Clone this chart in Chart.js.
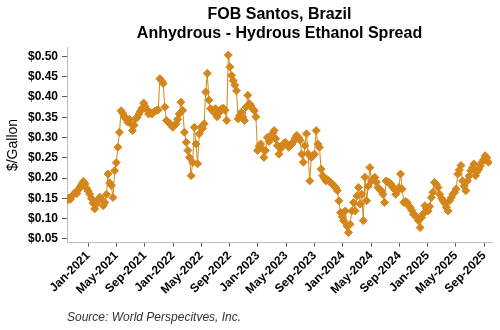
<!DOCTYPE html>
<html>
<head>
<meta charset="utf-8">
<script src="https://cdn.jsdelivr.net/npm/chart.js@4.4.1/dist/chart.umd.min.js"></script>
<style>
  body { margin: 0; background: #fff; }
  #spreadChart { display: block; }
</style>
</head>
<body>
<canvas id="spreadChart" width="500" height="330"></canvas>
<script>
// Weekly anhydrous minus hydrous spread, $/gallon (first week: 2 Oct 2020)
const spread2020 = [0.145, 0.150, 0.148, 0.156, 0.160, 0.165, 0.162, 0.172, 0.178, 0.185, 0.192, 0.186, 0.175];
const spread2021 = [0.168, 0.160, 0.150, 0.138, 0.124, 0.136, 0.146, 0.153, 0.147, 0.132, 0.140, 0.160, 0.210,
  0.188, 0.182, 0.152, 0.218, 0.238, 0.276, 0.313, 0.366, 0.360, 0.352, 0.346, 0.338, 0.345, 0.334, 0.317,
  0.330, 0.346, 0.350, 0.358, 0.365, 0.372, 0.385, 0.376, 0.368, 0.358, 0.362, 0.358, 0.362, 0.365, 0.367,
  0.368, 0.445, 0.440, 0.433, 0.375, 0.342, 0.338, 0.335, 0.330, 0.325];
const spread2022 = [0.330, 0.334, 0.345, 0.358, 0.387, 0.367, 0.313, 0.288, 0.268, 0.251, 0.206, 0.239, 0.325,
  0.284, 0.235, 0.309, 0.325, 0.322, 0.334, 0.412, 0.458, 0.392, 0.371, 0.368, 0.362, 0.371, 0.351, 0.360,
  0.368, 0.371, 0.372, 0.367, 0.342, 0.503, 0.474, 0.453, 0.440, 0.429, 0.415, 0.346, 0.355, 0.362, 0.350,
  0.342, 0.375, 0.404, 0.383, 0.378, 0.371, 0.366, 0.351, 0.268];
const spread2023 = [0.278, 0.284, 0.272, 0.251, 0.268, 0.300, 0.290, 0.297, 0.310, 0.317, 0.297, 0.280, 0.259,
  0.272, 0.280, 0.285, 0.288, 0.282, 0.276, 0.280, 0.284, 0.290, 0.298, 0.305, 0.300, 0.293, 0.259, 0.239,
  0.280, 0.309, 0.260, 0.193, 0.251, 0.255, 0.259, 0.317, 0.284, 0.276, 0.222, 0.206, 0.200, 0.193, 0.196,
  0.192, 0.189, 0.185, 0.181, 0.176, 0.169, 0.144, 0.115, 0.105];
const spread2024 = [0.095, 0.119, 0.082, 0.066, 0.086, 0.119, 0.140, 0.119, 0.156, 0.177, 0.136, 0.160, 0.095,
  0.202, 0.144, 0.180, 0.226, 0.193, 0.198, 0.202, 0.190, 0.177, 0.172, 0.169, 0.160, 0.140, 0.193, 0.190,
  0.189, 0.185, 0.178, 0.173, 0.160, 0.168, 0.177, 0.210, 0.173, 0.140, 0.142, 0.140, 0.132, 0.127, 0.120,
  0.111, 0.108, 0.103, 0.095, 0.078, 0.103, 0.112, 0.132, 0.125];
const spread2025 = [0.119, 0.130, 0.152, 0.165, 0.189, 0.185, 0.177, 0.160, 0.150, 0.144, 0.138, 0.128, 0.119,
  0.144, 0.152, 0.160, 0.165, 0.173, 0.210, 0.220, 0.231, 0.193, 0.180, 0.169, 0.193, 0.205, 0.218, 0.225,
  0.235, 0.206, 0.215, 0.222, 0.230, 0.239, 0.245, 0.255, 0.250, 0.239];

const xTickLabels = ["Jan-2021", "May-2021", "Sep-2021", "Jan-2022", "May-2022", "Sep-2022", "Jan-2023",
  "May-2023", "Sep-2023", "Jan-2024", "May-2024", "Sep-2024", "Jan-2025", "May-2025", "Sep-2025"];
const yTickValues = [0.05, 0.10, 0.15, 0.20, 0.25, 0.30, 0.35, 0.40, 0.45, 0.50];

const MONTHS = ["Jan", "Feb", "Mar", "Apr", "May", "Jun", "Jul", "Aug", "Sep", "Oct", "Nov", "Dec"];
const LINE_COLOR = "#D4861B";
const FONT = "'Liberation Sans', Arial, sans-serif";

// x axis runs in months counted from Jan 2021
function monthIndex(date) {
  const y = date.getUTCFullYear();
  const m = date.getUTCMonth();
  const days = new Date(Date.UTC(y, m + 1, 0)).getUTCDate();
  return (y - 2021) * 12 + m + (date.getUTCDate() - 1) / days;
}

function labelToMonth(label) {
  const [mon, year] = label.split("-");
  return (Number(year) - 2021) * 12 + MONTHS.indexOf(mon);
}

const weeklySpread = [].concat(spread2020, spread2021, spread2022, spread2023, spread2024, spread2025);
const points = weeklySpread.map((v, i) => ({
  x: monthIndex(new Date(Date.UTC(2020, 9, 2 + 7 * i))),
  y: v,
}));

const ctx = document.getElementById("spreadChart").getContext("2d");
new Chart(ctx, {
  type: "line",
  data: {
    datasets: [
      {
        label: "Spread",
        data: points,
        borderColor: LINE_COLOR,
        backgroundColor: LINE_COLOR,
        borderWidth: 1,
        pointStyle: "rectRot",
        pointRadius: 4,
        pointBorderWidth: 1,
        pointBorderColor: LINE_COLOR,
        pointBackgroundColor: LINE_COLOR,
        tension: 0,
      },
    ],
  },
  options: {
    responsive: false,
    animation: false,
    layout: { padding: { left: 0, right: 8, top: 0, bottom: 0 } },
    plugins: {
      legend: { display: false },
      tooltip: { enabled: false },
      title: {
        display: true,
        fullSize: false,
        text: ["FOB Santos, Brazil", "Anhydrous - Hydrous Ethanol Spread"],
        color: "#000",
        font: { family: FONT, size: 16, weight: "bold", lineHeight: 1.2 },
        padding: { top: 5, bottom: 4 },
      },
      subtitle: {
        display: true,
        position: "bottom",
        align: "start",
        fullSize: false,
        text: "Source: World Perspecitves, Inc.",
        color: "#333",
        font: { family: FONT, size: 12, style: "italic", lineHeight: 1.2 },
        padding: { top: 8, bottom: 5 },
      },
    },
    scales: {
      x: {
        type: "linear",
        min: -3,
        max: 57.1,
        afterBuildTicks: (axis) => {
          axis.ticks = xTickLabels.map((l) => ({ value: labelToMonth(l) }));
        },
        afterFit: (axis) => {
          axis.height = 60;
        },
        ticks: {
          autoSkip: false,
          maxRotation: 45,
          minRotation: 45,
          padding: 2,
          color: "#000",
          font: { family: FONT, size: 12, weight: "bold" },
          callback: (value) => {
            const m = Math.round(value);
            const y = 2021 + Math.floor(m / 12);
            return MONTHS[((m % 12) + 12) % 12] + "-" + y;
          },
        },
        grid: {
          display: true,
          drawOnChartArea: false,
          drawTicks: true,
          tickLength: 4,
          color: "#595959",
        },
        border: { display: true, color: "#BFBFBF", width: 1 },
      },
      y: {
        min: 0.041,
        max: 0.522,
        afterBuildTicks: (axis) => {
          axis.ticks = yTickValues.map((v) => ({ value: v }));
        },
        afterFit: (axis) => {
          axis.width = 67;
        },
        ticks: {
          padding: 4,
          color: "#000",
          font: { family: FONT, size: 12, weight: "bold" },
          callback: (value) => "$" + value.toFixed(2),
        },
        grid: {
          display: true,
          drawOnChartArea: false,
          drawTicks: true,
          tickLength: 5,
          color: "#595959",
        },
        border: { display: true, color: "#BFBFBF", width: 1 },
        title: {
          display: true,
          text: "$/Gallon",
          color: "#000",
          font: { family: FONT, size: 14 },
          padding: { top: 5, bottom: 0 },
        },
      },
    },
  },
});
</script>
</body>
</html>
